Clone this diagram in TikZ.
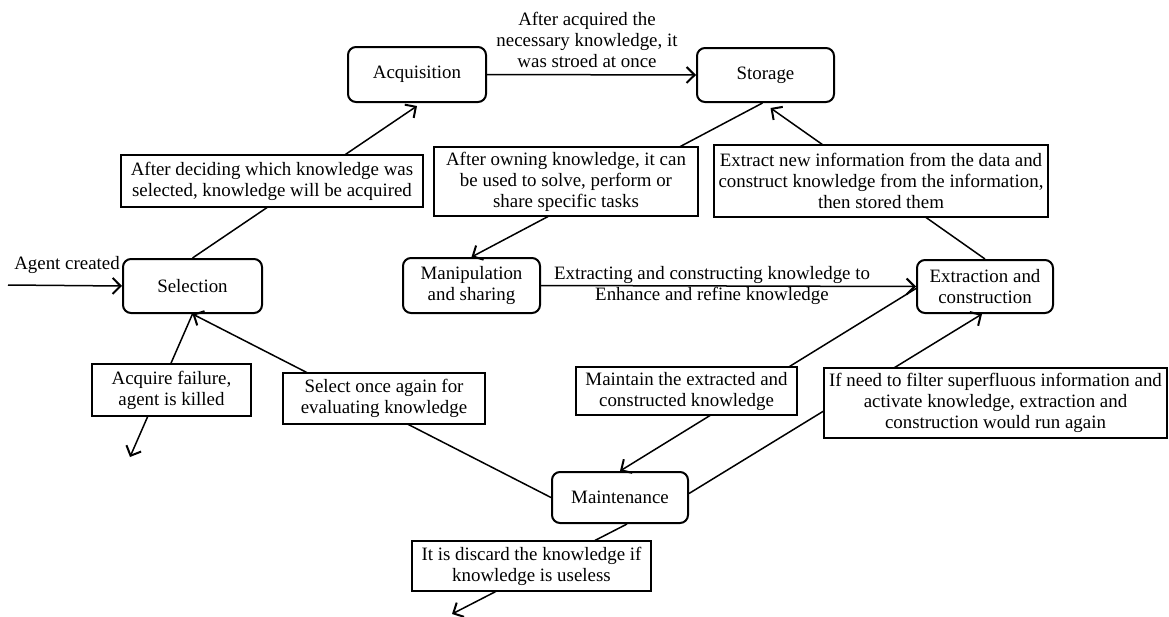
\documentclass[tikz,border=0pt]{standalone}
\usepackage{fontspec}
\setmainfont{Liberation Serif}
\usetikzlibrary{arrows.meta,calc}
\begin{document}
\begin{tikzpicture}[x=1pt,y=-1pt,
  font=\fontsize{18.9}{21}\selectfont,
  stage/.style={draw,rounded corners=8pt,line width=2pt,align=center,inner sep=0pt},
  note/.style={draw,fill=white,line width=1.6pt,align=center,inner sep=0pt},
  conn/.style={line width=1.5pt},
  arr/.style={conn,-{Straight Barb[length=8pt,width=16pt,line width=2pt]}},
]
\useasboundingbox (0,0) rectangle (1169,616);

% stages
\node[stage,minimum width=138pt,minimum height=55pt] (acq) at (417,74.5) {Acquisition};
\node[stage,minimum width=137pt,minimum height=54pt] (sto) at (765.5,75) {Storage};
\node[stage,minimum width=139pt,minimum height=54pt] (sel) at (192.5,286) {Selection};
\node[stage,minimum width=137pt,minimum height=55pt] (man) at (471.5,285.5) {Manipulation\\and sharing};
\node[stage,minimum width=136pt,minimum height=53pt] (ext) at (985,286.5) {Extraction and\\construction};
\node[stage,minimum width=136pt,minimum height=51pt] (mnt) at (620,497.5) {Maintenance};

% free labels
\node[align=center] (lab1) at (587,40) {After acquired the\\necessary knowledge, it\\was stroed at once};
\node[align=center] (lab2) at (712,285) {Extracting and constructing knowledge to\\Enhance and refine knowledge};
\node (lab3) at (67,265) {Agent created};

% free ends
\coordinate (start) at (8,285);
\coordinate (kill) at (130,457);
\coordinate (disc) at (452,614);

% connectors
\draw[arr] (start) -- (sel.west);
\draw[arr] (sel.north) -- ([yshift=-3pt]acq.south);
\draw[arr] (acq.east) -- (sto.west);
\draw[arr] ([xshift=-3pt]sto.south) -- (man.north);
\draw[arr] (ext.north) -- ([xshift=5pt,yshift=-5pt]sto.south);
\draw[arr] (man.east) -- (ext.west);
\draw[arr] ([yshift=-2pt]ext.west) -- (mnt.north);
\draw[arr] ([yshift=4pt]mnt.east) -- ([xshift=-3pt]ext.south);
\draw[arr] (mnt.west) -- (sel.south);
\draw[arr] (sel.south) -- (kill);
\draw[arr] ([xshift=7pt]mnt.south) -- (disc);

% notes on connectors
\node[note,minimum width=302pt,minimum height=52pt] (n1) at (272,181) {After deciding which knowledge was\\selected, knowledge will be acquired};
\node[note,minimum width=264pt,minimum height=69pt] (n2) at (566,181.5) {After owning knowledge, it can\\be used to solve, perform or\\share specific tasks};
\node[note,minimum width=334pt,minimum height=72pt] (n3) at (881,181) {Extract new information from the data and\\construct knowledge from the information,\\then stored them};
\node[note,minimum width=159pt,minimum height=52pt] (n4) at (171.5,390) {Acquire failure,\\agent is killed};
\node[note,minimum width=202pt,minimum height=51pt] (n5) at (384,398.5) {Select once again for\\evaluating knowledge};
\node[note,minimum width=343pt,minimum height=70pt] (n7) at (995.5,403) {If need to filter superfluous information and\\activate knowledge, extraction and\\construction would run again};
\node[note,minimum width=221pt,minimum height=48pt] (n6) at (686.5,391) {Maintain the extracted and\\constructed knowledge};
\node[note,minimum width=239pt,minimum height=50pt] (n8) at (531.5,566) {It is discard the knowledge if\\knowledge is useless};
\end{tikzpicture}
\end{document}
